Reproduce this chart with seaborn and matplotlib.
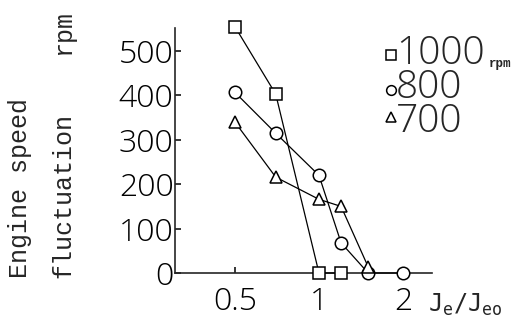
import matplotlib
matplotlib.use("Agg")
import matplotlib.pyplot as plt
from matplotlib.lines import Line2D
import seaborn as sns
import pandas as pd

# data
x_1000 = [0.5, 0.7, 1.0, 1.2]
y_1000 = [555, 403, 0, 0]
x_800 = [0.5, 0.7, 1.0, 1.2, 1.5, 2.0]
y_800 = [407, 315, 220, 68, 0, 0]
x_700 = [0.5, 0.7, 1.0, 1.2, 1.5]
y_700 = [340, 216, 166, 150, 14]
series = ["1000", "800", "700"]
markers = {"1000": "s", "800": "o", "700": "^"}
x_ticks = [0.5, 1, 2]
x_ticklabels = ["0.5", "1", "2"]
y_ticks = [0, 100, 200, 300, 400, 500]

df = pd.concat([
    pd.DataFrame({"x": x_1000, "y": y_1000, "rpm": "1000"}),
    pd.DataFrame({"x": x_800, "y": y_800, "rpm": "800"}),
    pd.DataFrame({"x": x_700, "y": y_700, "rpm": "700"}),
], ignore_index=True)

sns.set_style("ticks")
plt.rcParams["font.family"] = ["Open Sans", "DejaVu Sans"]

W, H = 515, 322
fig = plt.figure(figsize=(W / 100, H / 100), dpi=100)
ax = fig.add_axes([175 / W, 49 / H, (432 - 175) / W, (273 - 28) / H])

sns.lineplot(data=df, x="x", y="y", hue="rpm", style="rpm", markers=markers,
             dashes=False, palette={s: "black" for s in series}, sort=False,
             legend=False, ax=ax, linewidth=0.9, markersize=9,
             markerfacecolor="white", markeredgecolor="black",
             markeredgewidth=1.1, clip_on=False, zorder=3)

ax.set_xscale("log")
ax.set_xlim(0.305, 2.54)
ax.set_ylim(0, 552)
ax.set_xticks(x_ticks)
ax.set_xticklabels(x_ticklabels)
ax.xaxis.set_minor_locator(matplotlib.ticker.NullLocator())
ax.set_yticks(y_ticks)
ax.set_xlabel("")
ax.set_ylabel("")
for sp in ["top", "right"]:
    ax.spines[sp].set_visible(False)
for sp in ["left", "bottom"]:
    ax.spines[sp].set_linewidth(1.2)
ax.tick_params(axis="both", direction="in", length=4.5, width=1.1,
               labelsize=23, colors="black")
ax.tick_params(axis="y", pad=1)
ax.tick_params(axis="x", pad=9)
for lab in ax.get_xticklabels() + ax.get_yticklabels():
    lab.set_fontweight("light")

mono = "Liberation Mono"
fig.text(20 / W, 1 - 278 / H, "Engine speed", rotation=90, ha="center",
         va="bottom", family=mono, fontsize=18)
fig.text(63 / W, 1 - 278 / H, "fluctuation", rotation=90, ha="center",
         va="bottom", family=mono, fontsize=18)
fig.text(63 / W, 1 - 10 / H, "rpm", rotation=90, ha="center",
         va="top", family=mono, fontsize=18)
fig.text(428 / W, 1 - 305 / H, r"$\mathtt{J_e/J_{eo}}$", ha="left",
         va="center", fontsize=17)

# legend (drawn by hand to match the compact layout)
leg_marker_y = [55, 90, 117]
for s, my in zip(series, leg_marker_y):
    fig.add_artist(Line2D([391 / W], [1 - my / H], transform=fig.transFigure,
                          linestyle="none", marker=markers[s], markersize=7,
                          markerfacecolor="white", markeredgecolor="black",
                          markeredgewidth=1.1))
fig.text(396 / W, 1 - 132 / H, "\n".join(series), ha="left", va="baseline",
         family="Open Sans", fontweight="light", fontsize=28,
         linespacing=0.85)
fig.text(489 / W, 1 - 64 / H, "rpm", ha="left", va="center", family=mono,
         fontsize=9, fontweight="bold")

fig.savefig("out.png", dpi=100)
